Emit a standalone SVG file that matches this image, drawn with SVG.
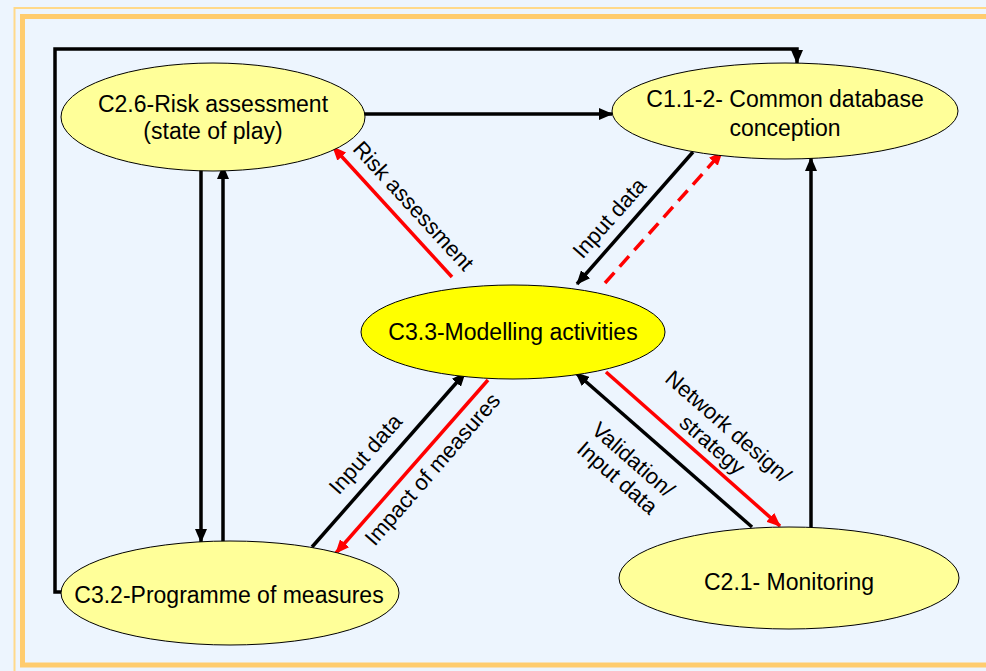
<svg xmlns="http://www.w3.org/2000/svg" width="986" height="671" viewBox="0 0 986 671">
<defs>
<style>
.bg{fill:#EDF5FE}
.node{stroke:#000;stroke-width:1}
.pale{fill:#FFFF99}
.bright{fill:#FFFF00}
.t{font-family:"Liberation Sans",Arial,sans-serif;font-size:23px;fill:#000;text-anchor:middle}
.lbl{font-family:"Liberation Sans",Arial,sans-serif;font-size:22px;fill:#000;text-anchor:middle}
.k{stroke:#000;stroke-width:3.5;fill:none}
.r{stroke:#FF0000;stroke-width:3.5;fill:none}
</style>
<marker id="ak" markerUnits="userSpaceOnUse" markerWidth="14" markerHeight="12" refX="13" refY="6" orient="auto">
<path d="M0,0 L14,6 L0,12 z" fill="#000"/>
</marker>
<marker id="ar" markerUnits="userSpaceOnUse" markerWidth="14" markerHeight="12" refX="13" refY="6" orient="auto">
<path d="M0,0 L14,6 L0,12 z" fill="#FF0000"/>
</marker>
</defs>
<rect class="bg" x="0" y="0" width="986" height="671"/>
<rect x="14.5" y="8" width="990" height="680" fill="none" stroke="#FFD98A" stroke-width="2"/>
<rect x="22.5" y="16.5" width="990" height="648.5" fill="none" stroke="#FFCC6E" stroke-width="5"/>

<g id="connectors">
<polyline class="k" points="72,592 55,592 55,49 797,49 797,63" marker-end="url(#ak)"/>
<line class="k" x1="363" y1="114" x2="612" y2="114" marker-end="url(#ak)"/>
<line class="k" x1="201" y1="165" x2="201" y2="542" marker-end="url(#ak)"/>
<line class="k" x1="223" y1="542" x2="223" y2="166" marker-end="url(#ak)"/>
<line class="k" x1="811" y1="527" x2="811" y2="158" marker-end="url(#ak)"/>
<line class="r" x1="452" y1="277" x2="333" y2="147" marker-end="url(#ar)"/>
<line class="k" x1="693" y1="152" x2="577" y2="284" marker-end="url(#ak)"/>
<line class="r" x1="605" y1="283" x2="722" y2="152" stroke-dasharray="14,8" marker-end="url(#ar)"/>
<line class="k" x1="312" y1="547" x2="465" y2="373" marker-end="url(#ak)"/>
<line class="r" x1="488" y1="380" x2="336" y2="553" marker-end="url(#ar)"/>
<line class="k" x1="752" y1="527" x2="576" y2="373" marker-end="url(#ak)"/>
<line class="r" x1="606" y1="372" x2="780" y2="526" marker-end="url(#ar)"/>
<text class="lbl" transform="translate(408,211) rotate(47.5)">Risk assessment</text>
<text class="lbl" transform="translate(615,223) rotate(-48.5)">Input data</text>
<text class="lbl" transform="translate(371,459) rotate(-48.7)">Input data</text>
<text class="lbl" transform="translate(438,474) rotate(-49)">Impact of measures</text>
<g transform="translate(720,436) rotate(41)">
<text class="lbl" x="0" y="-5">Network design/</text>
<text class="lbl" x="0" y="19">strategy</text>
</g>
<g transform="translate(625,469) rotate(41)">
<text class="lbl" x="0" y="-5">Validation/</text>
<text class="lbl" x="0" y="19">Input data</text>
</g>
</g>

<g id="c26">
<ellipse class="node pale" cx="213" cy="117" rx="152" ry="54"/>
<text class="t" x="213" y="112">C2.6-Risk assessment</text>
<text class="t" x="213" y="139">(state of play)</text>
</g>
<g id="c112">
<ellipse class="node pale" cx="785" cy="111" rx="173" ry="48"/>
<text class="t" x="785" y="107">C1.1-2- Common database</text>
<text class="t" x="785" y="136">conception</text>
</g>
<g id="c33">
<ellipse class="node bright" cx="513" cy="332" rx="152" ry="47"/>
<text class="t" x="513" y="340">C3.3-Modelling activities</text>
</g>
<g id="c32">
<ellipse class="node pale" cx="230" cy="593" rx="169" ry="52"/>
<text class="t" x="229" y="603">C3.2-Programme of measures</text>
</g>
<g id="c21">
<ellipse class="node pale" cx="789" cy="578" rx="170" ry="51"/>
<text class="t" x="789" y="590">C2.1- Monitoring</text>
</g>
</svg>
